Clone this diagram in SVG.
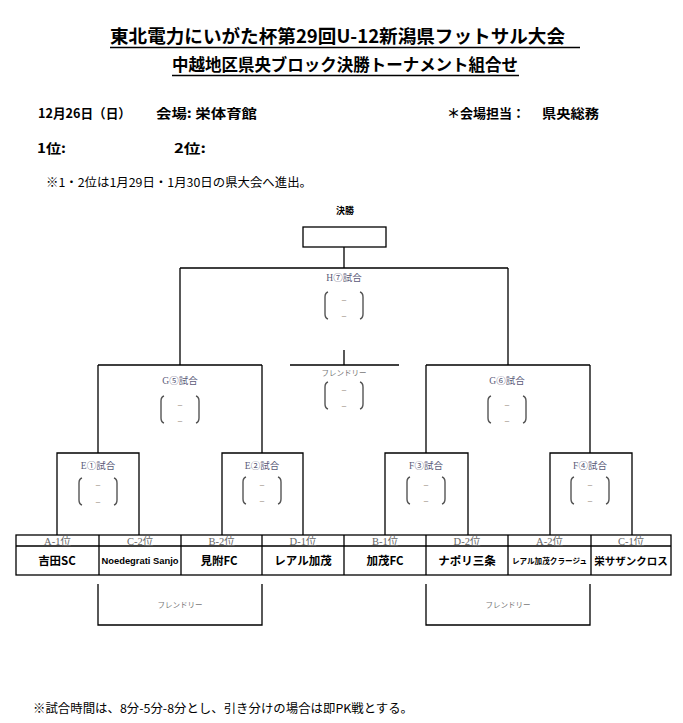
<svg xmlns="http://www.w3.org/2000/svg" width="683" height="723" viewBox="0 0 683 723">
<defs>
<style>
.ln{fill:none;stroke:#000;stroke-width:1.3}
.br{fill:none;stroke:#555;stroke-width:1.4}
.jp{font-family:"Noto Sans CJK JP","Liberation Sans",sans-serif}
.b{font-weight:bold}
.t1{font-size:18.5px;font-weight:bold}
.t2{font-size:16.5px;font-weight:bold}
.hd{font-size:13px;font-weight:bold}
.lb{font-family:"Liberation Serif","Noto Sans CJK JP",serif;font-size:9.5px;fill:#5a5a78;text-anchor:middle}
.fr{font-family:"Noto Sans CJK JP",sans-serif;font-size:7.5px;fill:#777;text-anchor:middle}
.ds{font-family:"Liberation Sans",sans-serif;font-size:8px;fill:#8a7a6a;text-anchor:middle}
.ch{font-family:"Liberation Serif","Noto Sans CJK JP",serif;font-size:10.5px;fill:#666;text-anchor:middle}
.tm{font-family:"Noto Sans CJK JP","Liberation Sans",sans-serif;font-size:11.5px;font-weight:bold;text-anchor:middle}
</style>
<path id="bl" d="M3 0 Q0 1 0 5 V22 Q0 26 3 27"/>
<path id="bR" d="M-3 0 Q0 1 0 5 V22 Q0 26 -3 27"/>
</defs>
<rect width="683" height="723" fill="#fff"/>

<g id="header">
<text class="jp t1" x="110" y="43" textLength="455" lengthAdjust="spacingAndGlyphs">東北電力にいがた杯第29回U-12新潟県フットサル大会</text>
<line x1="110" y1="47.5" x2="580" y2="47.5" stroke="#000" stroke-width="1.5"/>
<text class="jp t2" x="172" y="71" textLength="346" lengthAdjust="spacingAndGlyphs">中越地区県央ブロック決勝トーナメント組合せ</text>
<line x1="172" y1="75.5" x2="519" y2="75.5" stroke="#000" stroke-width="1.5"/>
<text class="jp hd" x="38" y="118" textLength="93" lengthAdjust="spacingAndGlyphs">12月26日（日）</text>
<text class="jp hd" x="156" y="118" textLength="101" lengthAdjust="spacingAndGlyphs">会場: 栄体育館</text>
<text class="jp hd" x="447" y="118" textLength="78" lengthAdjust="spacingAndGlyphs">＊会場担当：</text>
<text class="jp hd" x="542" y="118" textLength="57" lengthAdjust="spacingAndGlyphs">県央総務</text>
<text class="jp hd" x="37" y="153" textLength="29" lengthAdjust="spacingAndGlyphs">1位:</text>
<text class="jp hd" x="174" y="153" textLength="32" lengthAdjust="spacingAndGlyphs">2位:</text>
<text class="jp" x="46" y="187" style="font-size:12px" textLength="266" lengthAdjust="spacingAndGlyphs">※1・2位は1月29日・1月30日の県大会へ進出。</text>
</g>

<g id="connectors" class="ln">
<path d="M344 247 V268 M180 268 H508 M180 268 V365 M508 268 V365"/>
<path d="M98 365 H262 M426 365 H590"/>
<path d="M344 350 V365 M290 365 H399"/>
<path d="M98 365 V453 M262 365 V453 M426 365 V453 M590 365 V453"/>
<path d="M57 535 V453 H139 V535 M222 535 V453 H303 V535 M385 535 V453 H468 V535 M550 535 V453 H632 V535"/>
</g>

<g id="final">
<text class="jp b" x="345" y="214" style="font-size:9px;text-anchor:middle">決勝</text>
<rect class="ln" x="303" y="227" width="83" height="20"/>
</g>

<g id="match-H7">
<text class="lb" x="344" y="280.5">H⑦試合</text>
<use href="#bl" class="br" x="325" y="292"/><use href="#bR" class="br" x="363" y="292"/>
<text class="ds" x="344" y="301.5">–</text><text class="ds" x="344" y="317.5">–</text>
</g>
<g id="match-friendly-mid">
<text class="fr" x="344" y="376">フレンドリー</text>
<use href="#bl" class="br" x="325" y="382"/><use href="#bR" class="br" x="363" y="382"/>
<text class="ds" x="344" y="391.5">–</text><text class="ds" x="344" y="407.5">–</text>
</g>
<g id="match-G5">
<text class="lb" x="180" y="383.5">G⑤試合</text>
<use href="#bl" class="br" x="161" y="396"/><use href="#bR" class="br" x="199" y="396"/>
<text class="ds" x="180" y="406.5">–</text><text class="ds" x="180" y="422.5">–</text>
</g>
<g id="match-G6">
<text class="lb" x="507" y="383.5">G⑥試合</text>
<use href="#bl" class="br" x="488" y="396"/><use href="#bR" class="br" x="526" y="396"/>
<text class="ds" x="507" y="406.5">–</text><text class="ds" x="507" y="422.5">–</text>
</g>
<g id="match-E1">
<text class="lb" x="98" y="468.5">E①試合</text>
<use href="#bl" class="br" x="79" y="478"/><use href="#bR" class="br" x="117" y="478"/>
<text class="ds" x="98" y="487">–</text><text class="ds" x="98" y="503.5">–</text>
</g>
<g id="match-E2">
<text class="lb" x="262" y="468.5">E②試合</text>
<use href="#bl" class="br" x="243" y="477"/><use href="#bR" class="br" x="281" y="477"/>
<text class="ds" x="262" y="486.5">–</text><text class="ds" x="262" y="503">–</text>
</g>
<g id="match-F3">
<text class="lb" x="426" y="468.5">F③試合</text>
<use href="#bl" class="br" x="407" y="477"/><use href="#bR" class="br" x="445" y="477"/>
<text class="ds" x="426" y="486.5">–</text><text class="ds" x="426" y="503">–</text>
</g>
<g id="match-F4">
<text class="lb" x="590" y="468.5">F④試合</text>
<use href="#bl" class="br" x="571" y="477"/><use href="#bR" class="br" x="609" y="477"/>
<text class="ds" x="590" y="486.5">–</text><text class="ds" x="590" y="503">–</text>
</g>

<g id="teams-table">
<rect class="ln" x="16" y="535" width="655" height="40"/>
<path class="ln" d="M16 546 H671 M99 535 V575 M181 535 V575 M262 535 V575 M344 535 V575 M426 535 V575 M508 535 V575 M591 535 V575"/>
<text class="ch" x="57.5" y="544.5">A-1位</text>
<text class="ch" x="140" y="544.5">C-2位</text>
<text class="ch" x="221.5" y="544.5">B-2位</text>
<text class="ch" x="303" y="544.5">D-1位</text>
<text class="ch" x="385" y="544.5">B-1位</text>
<text class="ch" x="467" y="544.5">D-2位</text>
<text class="ch" x="549.5" y="544.5">A-2位</text>
<text class="ch" x="631" y="544.5">C-1位</text>
<text class="tm" x="57" y="564.5">吉田SC</text>
<text class="tm" x="140" y="564" style="font-size:9.5px;font-family:'Liberation Sans',sans-serif" textLength="77" lengthAdjust="spacingAndGlyphs">Noedegrati Sanjo</text>
<text class="tm" x="219" y="564.5">見附FC</text>
<text class="tm" x="303" y="564.5">レアル加茂</text>
<text class="tm" x="385" y="564.5">加茂FC</text>
<text class="tm" x="467" y="564.5">ナポリ三条</text>
<text class="tm" x="549.5" y="563.5" style="font-size:7.6px">レアル加茂クラージュ</text>
<text class="tm" x="631" y="564.5" style="font-size:10.5px">栄サザンクロス</text>
</g>

<g id="friendly-left">
<path class="ln" d="M98 584 V625 H262 V584"/>
<text class="fr" x="180" y="608">フレンドリー</text>
</g>
<g id="friendly-right">
<path class="ln" d="M426 584 V625 H590 V584"/>
<text class="fr" x="508" y="608">フレンドリー</text>
</g>

<g id="footer">
<text class="jp" x="33" y="713" style="font-size:12px" textLength="380" lengthAdjust="spacingAndGlyphs">※試合時間は、8分-5分-8分とし、引き分けの場合は即PK戦とする。</text>
</g>
</svg>
